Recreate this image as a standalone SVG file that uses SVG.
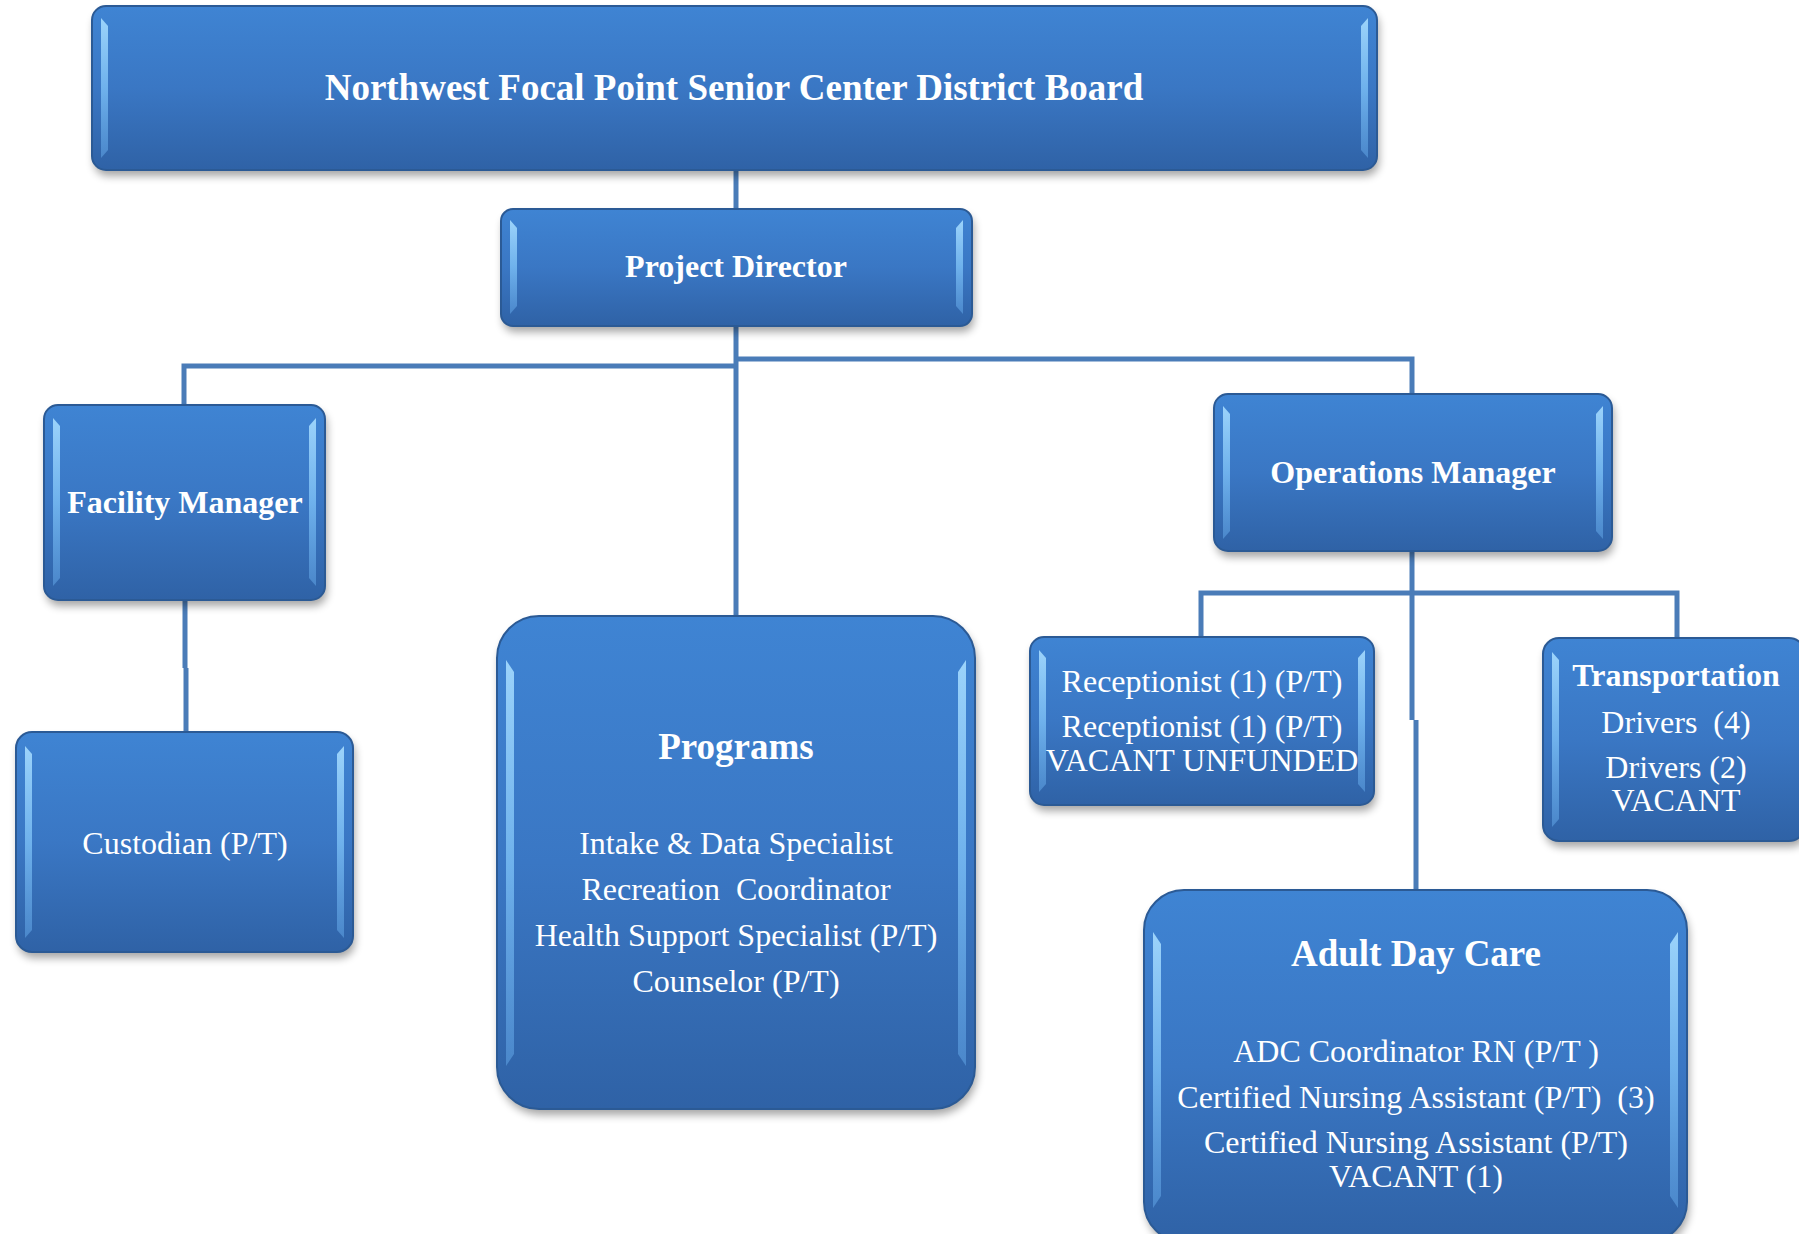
<svg xmlns="http://www.w3.org/2000/svg" width="1799" height="1234" viewBox="0 0 1799 1234">
<defs>
  <linearGradient id="fill" x1="0" y1="0" x2="0" y2="1">
    <stop offset="0" stop-color="#3f84d3"/>
    <stop offset="0.5" stop-color="#3a77c4"/>
    <stop offset="1" stop-color="#2f62a6"/>
  </linearGradient>
  <linearGradient id="bevel" x1="0" y1="0" x2="0" y2="1">
    <stop offset="0" stop-color="#a6dcff" stop-opacity="0.9"/>
    <stop offset="0.5" stop-color="#7cc0f6" stop-opacity="0.8"/>
    <stop offset="1" stop-color="#5c9ee0" stop-opacity="0.6"/>
  </linearGradient>
  <filter id="shadow" x="-10%" y="-10%" width="120%" height="130%">
    <feGaussianBlur stdDeviation="4"/>
  </filter>
  <style>
    .box { fill: url(#fill); stroke: #2b5a95; stroke-width: 2; }
    .sh { fill: #000; opacity: 0.35; filter: url(#shadow); }
    .bv { fill: url(#bevel); }
    .t { fill: #ffffff; font-family: "Liberation Serif", "Times New Roman", serif; text-anchor: middle; }
    .b { font-weight: bold; font-size: 32px; }
    .bb { font-weight: bold; font-size: 37px; }
    .r { font-size: 32px; }
    .con { fill: none; stroke: #4a7cb8; stroke-width: 5; }
  </style>
</defs>
<rect width="1799" height="1234" fill="#ffffff"/>

<g id="connectors">
  <path class="con" d="M736 170 V209"/>
  <path class="con" d="M736 326 V616"/>
  <path class="con" d="M736 366 H184 V405"/>
  <path class="con" d="M736 359 H1412 V394"/>
  <path class="con" d="M185 600 V668 M186 668 V732"/>
  <path class="con" d="M1412 551 V720 M1416 720 V890"/>
  <path class="con" d="M1201 637 V593 H1677 V638"/>
</g>

<g id="board">
  <rect class="sh" x="94" y="12" width="1285" height="164" rx="14"/>
  <rect class="box" x="92" y="6" width="1285" height="164" rx="14"/>
  <path class="bv" d="M101 18 L108 26 V150 L101 158 Z"/>
  <path class="bv" d="M1368 18 L1361 26 V150 L1368 158 Z"/>
  <text class="t bb" x="734" y="100">Northwest Focal Point Senior Center District Board</text>
</g>

<g id="project-director">
  <rect class="sh" x="503" y="215" width="471" height="117" rx="12"/>
  <rect class="box" x="501" y="209" width="471" height="117" rx="12"/>
  <path class="bv" d="M510 220 L517 228 V306 L510 314 Z"/>
  <path class="bv" d="M963 220 L956 228 V306 L963 314 Z"/>
  <text class="t b" x="736" y="277">Project Director</text>
</g>

<g id="facility-manager">
  <rect class="sh" x="46" y="411" width="281" height="195" rx="14"/>
  <rect class="box" x="44" y="405" width="281" height="195" rx="14"/>
  <path class="bv" d="M53 418 L60 426 V578 L53 586 Z"/>
  <path class="bv" d="M316 418 L309 426 V578 L316 586 Z"/>
  <text class="t b" x="185" y="513">Facility Manager</text>
</g>

<g id="custodian">
  <rect class="sh" x="18" y="738" width="337" height="220" rx="16"/>
  <rect class="box" x="16" y="732" width="337" height="220" rx="16"/>
  <path class="bv" d="M25 746 L32 754 V930 L25 938 Z"/>
  <path class="bv" d="M344 746 L337 754 V930 L344 938 Z"/>
  <text class="t r" x="185" y="854">Custodian (P/T)</text>
</g>

<g id="programs">
  <rect class="sh" x="499" y="622" width="478" height="493" rx="42"/>
  <rect class="box" x="497" y="616" width="478" height="493" rx="42"/>
  <path class="bv" d="M506 660 L514 672 V1054 L506 1066 Z"/>
  <path class="bv" d="M966 660 L958 672 V1054 L966 1066 Z"/>
  <text class="t bb" x="736" y="759">Programs</text>
  <text class="t r" x="736" y="854">Intake &amp; Data Specialist</text>
  <text class="t r" x="736" y="900" xml:space="preserve">Recreation  Coordinator</text>
  <text class="t r" x="736" y="946">Health Support Specialist (P/T)</text>
  <text class="t r" x="736" y="992">Counselor (P/T)</text>
</g>

<g id="operations-manager">
  <rect class="sh" x="1216" y="400" width="398" height="157" rx="14"/>
  <rect class="box" x="1214" y="394" width="398" height="157" rx="14"/>
  <path class="bv" d="M1223 406 L1230 414 V531 L1223 539 Z"/>
  <path class="bv" d="M1603 406 L1596 414 V531 L1603 539 Z"/>
  <text class="t b" x="1413" y="483">Operations Manager</text>
</g>

<g id="receptionist">
  <rect class="sh" x="1032" y="643" width="344" height="168" rx="14"/>
  <rect class="box" x="1030" y="637" width="344" height="168" rx="14"/>
  <path class="bv" d="M1039 650 L1046 658 V784 L1039 792 Z"/>
  <path class="bv" d="M1365 650 L1358 658 V784 L1365 792 Z"/>
  <text class="t r" x="1202" y="692">Receptionist (1) (P/T)</text>
  <text class="t r" x="1202" y="737">Receptionist (1) (P/T)</text>
  <text class="t r" x="1202" y="771">VACANT UNFUNDED</text>
</g>

<g id="transportation">
  <rect class="sh" x="1545" y="644" width="262" height="203" rx="16"/>
  <rect class="box" x="1543" y="638" width="262" height="203" rx="16"/>
  <path class="bv" d="M1552 652 L1559 660 V819 L1552 827 Z"/>
  <text class="t b" x="1676" y="686">Transportation</text>
  <text class="t r" x="1676" y="733" xml:space="preserve">Drivers  (4)</text>
  <text class="t r" x="1676" y="778">Drivers (2)</text>
  <text class="t r" x="1676" y="811">VACANT</text>
</g>

<g id="adult-day-care">
  <rect class="sh" x="1146" y="896" width="543" height="352" rx="40"/>
  <rect class="box" x="1144" y="890" width="543" height="352" rx="40"/>
  <path class="bv" d="M1153 932 L1161 944 V1196 L1153 1208 Z"/>
  <path class="bv" d="M1678 932 L1670 944 V1196 L1678 1208 Z"/>
  <text class="t bb" x="1416" y="966">Adult Day Care</text>
  <text class="t r" x="1416" y="1062">ADC Coordinator RN (P/T )</text>
  <text class="t r" x="1416" y="1108" xml:space="preserve">Certified Nursing Assistant (P/T)  (3)</text>
  <text class="t r" x="1416" y="1153">Certified Nursing Assistant (P/T)</text>
  <text class="t r" x="1416" y="1187">VACANT (1)</text>
</g>
</svg>
